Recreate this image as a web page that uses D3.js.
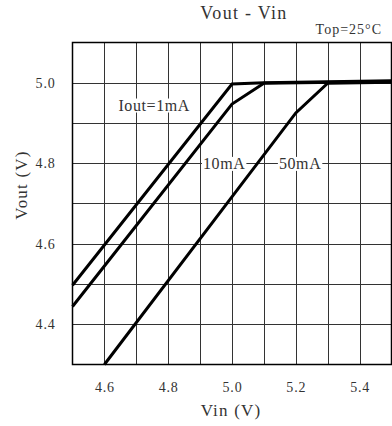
<!DOCTYPE html>
<html>
<head>
<meta charset="utf-8">
<script src="https://cdn.jsdelivr.net/npm/d3@7"></script>
<style>
  body { margin: 0; background: #fff; }
  svg { display: block; font-family: "Liberation Serif", "DejaVu Serif", serif; font-weight: normal; }
</style>
</head>
<body>
<svg width="392" height="426"></svg>
<script>
// curves
const vin1 = [4.5, 5.0, 5.1, 5.5];
const vout1 = [4.497, 4.997, 5.0, 5.005];
const vin10 = [4.5, 5.0, 5.1, 5.5];
const vout10 = [4.444, 4.947, 4.999, 5.003];
const vin50 = [4.6, 5.2, 5.3, 5.5];
const vout50 = [4.3, 4.925, 4.999, 5.001];

const xTicks = [4.6, 4.8, 5.0, 5.2, 5.4];
const yTicks = [4.4, 4.6, 4.8, 5.0];
const xGrid = d3.range(4.6, 5.45, 0.1);
const yGrid = d3.range(4.4, 5.05, 0.1);

const curveLabels = [
  { text: 'Iout=1mA', vin: 4.644, vout: 4.931 },
  { text: '10mA', vin: 4.909, vout: 4.786 },
  { text: '50mA', vin: 5.147, vout: 4.786 },
];

const svg = d3.select('svg');
const x = d3.scaleLinear().domain([4.5, 5.5]).range([72.5, 391.5]);
const y = d3.scaleLinear().domain([4.3, 5.1]).range([364.5, 42.5]);
const textColor = '#333';

// grid
const grid = svg.append('g').attr('stroke', '#333').attr('stroke-width', 1).attr('shape-rendering', 'crispEdges');
grid.selectAll('.gx').data(xGrid).join('line')
  .attr('x1', d => Math.round(x(d)) + 0.5).attr('x2', d => Math.round(x(d)) + 0.5)
  .attr('y1', y(5.1)).attr('y2', y(4.3));
grid.selectAll('.gy').data(yGrid).join('line')
  .attr('y1', d => Math.round(y(d)) + 0.5).attr('y2', d => Math.round(y(d)) + 0.5)
  .attr('x1', x(4.5)).attr('x2', x(5.5));

// frame
svg.append('rect')
  .attr('x', x(4.5)).attr('y', y(5.1))
  .attr('width', x(5.5) - x(4.5)).attr('height', y(4.3) - y(5.1))
  .attr('fill', 'none').attr('stroke', '#000').attr('stroke-width', 1.5);

// curve labels, white boxes hide the grid behind them
const lab = svg.append('g').selectAll('g').data(curveLabels).join('g');
lab.append('text')
  .attr('x', d => x(d.vin)).attr('y', d => y(d.vout))
  .attr('font-size', 16).attr('letter-spacing', 0.6).attr('fill', textColor)
  .text(d => d.text)
  .each(function () {
    const b = this.getBBox();
    d3.select(this.parentNode).insert('rect', 'text')
      .attr('x', b.x - 1).attr('y', b.y + 2)
      .attr('width', b.width + 2).attr('height', b.height - 3)
      .attr('fill', '#fff');
  });

// curves
const line = d3.line().x(d => x(d[0])).y(d => y(d[1]));
[[vin1, vout1], [vin10, vout10], [vin50, vout50]].forEach(([xs, ys]) => {
  svg.append('path')
    .datum(d3.zip(xs, ys))
    .attr('d', line)
    .attr('fill', 'none').attr('stroke', '#000').attr('stroke-width', 3)
    .attr('stroke-linejoin', 'miter');
});

// axes labels
const xAxis = svg.append('g').attr('transform', `translate(0,${y(4.3)})`)
  .attr('font-family', null)
  .call(d3.axisBottom(x).tickValues(xTicks).tickFormat(d3.format('.1f')).tickSize(0).tickPadding(18));
xAxis.attr('font-family', '"Liberation Serif", serif').attr('font-size', 14);
xAxis.select('.domain').remove();
xAxis.selectAll('text').attr('letter-spacing', 0.8).attr('fill', textColor);

const yAxis = svg.append('g').attr('transform', `translate(${x(4.5)},0)`)
  .call(d3.axisLeft(y).tickValues(yTicks).tickFormat(d3.format('.1f')).tickSize(0).tickPadding(17));
yAxis.attr('font-family', '"Liberation Serif", serif').attr('font-size', 14);
yAxis.select('.domain').remove();
yAxis.selectAll('text').attr('letter-spacing', 0.8).attr('fill', textColor);

svg.append('text').attr('x', 231).attr('y', 416).attr('text-anchor', 'middle')
  .attr('font-size', 17).attr('letter-spacing', 1.2).attr('fill', textColor).text('Vin (V)');

svg.append('text').attr('transform', 'translate(27,185) rotate(-90)').attr('text-anchor', 'middle')
  .attr('font-size', 17).attr('letter-spacing', 1.2).attr('fill', textColor).text('Vout (V)');

svg.append('text').attr('x', 244).attr('y', 19).attr('text-anchor', 'middle')
  .attr('font-size', 18).attr('letter-spacing', 1.3).attr('fill', textColor).text('Vout - Vin');

svg.append('text').attr('x', 382).attr('y', 34).attr('text-anchor', 'end')
  .attr('font-size', 14).attr('letter-spacing', 1).attr('fill', textColor).text('Top=25°C');
</script>
</body>
</html>
